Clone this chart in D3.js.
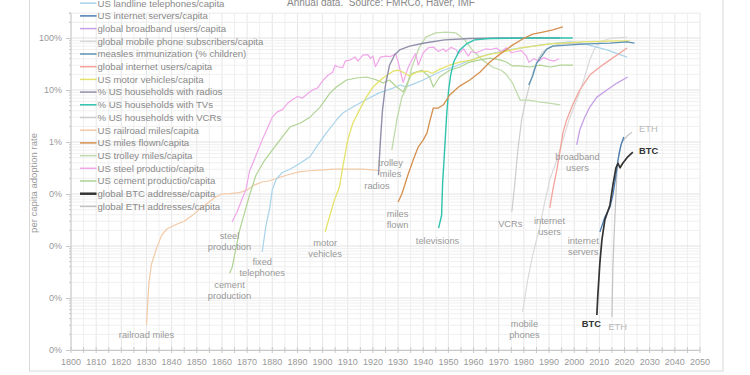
<!DOCTYPE html>
<html><head><meta charset="utf-8">
<script src="https://cdn.jsdelivr.net/npm/d3@7"></script>
<style>
html,body{margin:0;padding:0;background:#fff;}
svg{display:block;font-family:"Liberation Sans",Arial,Helvetica,sans-serif;}
</style>
</head><body>
<svg id="chart" width="750" height="375"></svg>
<script>
// ---------------- DATA (year, % per capita) ----------------
const xTickYears = d3.range(1800, 2051, 10);
const yTickValues = [0.0001, 0.001, 0.01, 0.1, 1, 10, 100];
const yTickLabels = ["0%", "0%", "0%", "0%", "1%", "10%", "100%"];

const landline = [[1876,0.0077],[1877.5,0.025],[1879,0.054],[1880,0.12],[1881.5,0.19],[1884,0.26],[1887,0.30],[1891,0.39],[1895,0.52],[1897.5,0.8],[1901.5,1.5],[1905.5,2.65],[1908,3.6],[1912,4.7],[1917,6.4],[1922.5,8.8],[1928,10.9],[1931,12.5],[1933,11.5],[1936,13],[1940,15.6],[1944,19.4],[1948,24],[1952,27.7],[1957,34.5],[1962,43],[1968,51.5],[1974,59],[1981,67],[1990,77],[1998,84],[2002,82],[2006,73],[2013,59],[2021,43]];
const internetServers = [[2010.2,0.0186],[2012.2,0.036],[2014.2,0.056],[2015.4,0.096],[2016.6,0.23],[2017.4,0.45],[2018.6,0.88],[2019.7,1.25]];
const broadband = [[2001,0.88],[2002.2,1.7],[2004.2,3.0],[2006.2,4.7],[2009,7.3],[2013,10],[2017,13.6],[2021.3,17.8]];
const mobile = [[1979.5,0.00054],[1981.5,0.0022],[1983.5,0.0067],[1986.3,0.023],[1988.3,0.07],[1990.3,0.19],[1993.1,0.45],[1995.5,1.09],[1998.2,2.9],[2001,6.4],[2003.4,13.6],[2006.2,38],[2008.2,64],[2010.2,84],[2014.2,98],[2021,104]];
const measles = [[1981.9,12.5],[1983.5,18.6],[1985.1,33],[1987.1,45],[1989.1,61],[1991.5,70],[1997,73],[2005,77],[2014.2,80],[2020.9,84],[2024,80]];
const internetUsers = [[1990.3,0.054],[1991.5,0.12],[1993.1,0.29],[1994.3,0.64],[1995.5,1.5],[1997,2.65],[1999.4,5.2],[2002.2,10],[2006.2,19.4],[2010.2,27.7],[2014.2,38],[2018.2,51.5],[2021,64]];
const motorVehicles = [[1901,0.0186],[1902.7,0.036],[1904.7,0.077],[1906.7,0.136],[1908,0.33],[1910,1.1],[1912,2.3],[1914.6,4.1],[1917.4,7.3],[1920,11.4],[1924,17],[1928,23],[1930,24],[1932,22],[1934.6,18.6],[1937.3,22],[1941.3,23],[1943.7,21],[1946.5,25],[1950.5,30],[1954.5,34.5],[1959.6,38],[1965,47],[1971.6,54],[1978.3,64],[1990.3,77],[2003.4,84],[2017,88],[2022,88]];
const radios = [[1922.2,0.23],[1923,1.1],[1923.8,4.1],[1925,12.5],[1926.6,30],[1928.6,47],[1930.6,59],[1934.6,70],[1940.5,80],[1948.5,92],[1958.4,98],[1970.4,100],[1982.3,100],[1994.3,100]];
const tvs = [[1946.1,0.022],[1947.3,0.039],[1947.7,0.16],[1948.5,0.70],[1949.3,3.3],[1950.1,10],[1950.9,19.4],[1952.1,34.5],[1954.5,59],[1957.2,77],[1960.4,92],[1966.4,98],[1982.3,100],[1999.4,100]];
const vcrs = [[1975.2,0.045],[1976.4,0.16],[1977.6,0.70],[1979.1,2.65],[1980.7,6.4],[1982.3,12.5],[1983.9,24],[1985.5,38],[1987.5,54],[1990.3,67],[1994.3,77],[2000.2,80],[2004,77]];
const railroad = [[1830,0.0003],[1830.6,0.001],[1831,0.002],[1832,0.0045],[1834,0.009],[1836,0.016],[1838,0.021],[1841,0.025],[1845,0.03],[1848,0.038],[1851,0.05],[1854,0.065],[1857,0.085],[1860,0.1],[1863,0.102],[1866,0.105],[1868,0.11],[1870,0.12],[1873,0.15],[1876,0.17],[1879,0.18],[1883,0.21],[1887,0.24],[1891,0.27],[1895,0.28],[1900,0.29],[1905,0.3],[1910,0.3],[1915,0.3],[1920,0.29],[1923,0.28]];
const milesFlown = [[1930,0.07],[1931.5,0.1],[1934,0.24],[1936,0.45],[1938,0.8],[1940,1.1],[1941.5,1.5],[1942.5,2.4],[1944,4.5],[1946,4.5],[1948,5.2],[1950.5,8],[1954.5,11.9],[1958.5,15.6],[1962.5,22],[1966.5,34.5],[1970.5,49],[1975.5,73],[1979.5,96],[1983.5,119],[1987.5,130],[1991.5,143],[1995.5,163]];
const trolley = [[1927.5,0.7],[1929.5,2.65],[1931.5,7.3],[1933.5,11.4],[1935.5,27.7],[1938.5,67],[1941,104],[1945,125],[1949,130],[1953,125],[1956.5,92],[1959.5,59],[1963.5,38],[1967.5,27.7],[1971,24],[1973,20],[1975.5,13.6],[1978.5,6.4],[1982,6.4],[1986,5.9],[1990,5.6],[1994.5,5.2]];
const steel = [[1864,0.029],[1866,0.045],[1868,0.08],[1869.5,0.12],[1871,0.28],[1873.5,0.55],[1876,1.1],[1878,1.8],[1880,3.0],[1882,3.8],[1884,4.2],[1886,5.5],[1888,6.5],[1890,7.5],[1892,7.0],[1894,8.5],[1896,10],[1898,11],[1900,15],[1902,19],[1904,22],[1905,30],[1906,28],[1908,27],[1909,36],[1911,38],[1913,43],[1914,36],[1916,47],[1918,48],[1919,40],[1920,45],[1921,28],[1923,43],[1925,45],[1927,44],[1929,50],[1930,35],[1932,14],[1934,27],[1936,42],[1937,50],[1938,30],[1940,52],[1942,65],[1944,67],[1946,55],[1948,62],[1949,55],[1951,66],[1953,60],[1954,50],[1956,62],[1958,45],[1959,55],[1961,52],[1963,57],[1965,62],[1967,60],[1969,64],[1971,55],[1973,65],[1975,52],[1977,55],[1979,57],[1981,45],[1982,34],[1984,40],[1986,36],[1988,42],[1990,38],[1992,36],[1994,40]];
const cement = [[1863,0.003],[1864,0.0038],[1867,0.02],[1871,0.096],[1873.5,0.23],[1877,0.45],[1880,0.7],[1884,1.25],[1887,1.94],[1891,2.3],[1895,3.0],[1899,4.7],[1903,8.8],[1905.5,11.4],[1909.5,15.6],[1913.5,17],[1917.5,17.8],[1921.5,15.6],[1924,13.6],[1926.5,15.6],[1929.5,11.4],[1932,9.2],[1935.5,21],[1939.5,24],[1942.5,17.8],[1944,11.4],[1946.5,17.8],[1950.5,24],[1954.5,27.7],[1958.5,34.5],[1962.5,38],[1966.5,41],[1970.5,38],[1973,34.5],[1975.5,29],[1978.5,29],[1982.5,27.7],[1986.5,30],[1990.5,27.7],[1994.5,30],[1999.5,30]];
const btc = [[2009,0.00047],[2009.4,0.00114],[2010.2,0.0047],[2011,0.013],[2012.2,0.032],[2014.2,0.061],[2015.4,0.15],[2016.6,0.32],[2017.4,0.39],[2018.2,0.32],[2019.3,0.39],[2021.3,0.52],[2023.3,0.64]];
const eth = [[2015,0.00043],[2015.4,0.0043],[2016.2,0.039],[2017,0.26],[2017.8,0.64],[2019,1.0],[2021,1.3],[2023,1.55]];

const seriesNames = ["US landline telephones/capita","US internet servers/capita","global broadband users/capita","global mobile phone subscribers/capita","measles immunization (% children)","global internet users/capita","US motor vehicles/capita","% US households with radios","% US households with TVs","% US households with VCRs","US railroad miles/capita","US miles flown/capita","US trolley miles/capita","US steel productio/capita","US cement productio/capita","global BTC addresse/capita","global ETH addresses/capita"];
const seriesData = [landline, internetServers, broadband, mobile, measles, internetUsers, motorVehicles, radios, tvs, vcrs, railroad, milesFlown, trolley, steel, cement, btc, eth];

// annotation labels: text lines and data anchor [year, %]
const annotations = [
  {lines:["railroad miles"], at:[1830,0.000194]},
  {lines:["steel","production"], at:[1863,0.0156]},
  {lines:["cement","production"], at:[1863,0.00178]},
  {lines:["fixed","telephones"], at:[1876,0.00492]},
  {lines:["motor","vehicles"], at:[1901,0.0114]},
  {lines:["trolley","miles"], at:[1927,0.394]},
  {lines:["radios"], at:[1921.6,0.1426]},
  {lines:["miles","flown"], at:[1929.8,0.0412]},
  {lines:["televisions"], at:[1945.7,0.01248]},
  {lines:["VCRs"], at:[1974.6,0.0265]},
  {lines:["internet","users"], at:[1990.2,0.0303]},
  {lines:["internet","servers"], at:[2003.6,0.01248]},
  {lines:["mobile","phones"], at:[1980.2,0.000316]},
  {lines:["BTC"], at:[2006.8,0.000316], kind:"btc", anchor:"middle"},
  {lines:["ETH"], at:[2017.3,0.000277], kind:"eth", anchor:"middle"},
  {lines:["broadband","users"], at:[2001.3,0.515]},
  {lines:["ETH"], at:[2025.8,1.78], kind:"eth", anchor:"start"},
  {lines:["BTC"], at:[2025.8,0.67], kind:"btc", anchor:"start"}
];

// ---------------- STYLE ----------------
const colors = ["#a9d3ea","#4b7db3","#c6a0e6","#dadada","#5f93b5","#f3a49c","#e4e26a","#8f8fa9","#2fc2ad","#cdcdcd","#f2caa6","#d4904f","#c0dbab","#f0a6e8","#afd393","#333333","#c2c2c2"];
const widths = [1.2,1.3,1.3,1.2,1.3,1.3,1.3,1.4,1.4,1.2,1.2,1.3,1.3,1.2,1.2,1.7,1.2];

const svg = d3.select("#chart");

// frame
svg.append("rect").attr("x",29.5).attr("y",-5).attr("width",693.5).attr("height",376)
  .attr("fill","#fff").attr("stroke","#d9d9d9").attr("stroke-width",1);

const x = d3.scaleLinear().domain([1800,2050]).range([71,700]);
const y = d3.scaleLog().domain([0.0001,300]).range([350,13.2]);

// grid
const grid = svg.append("g");
d3.range(1800,2051,5).forEach(yr => {
  grid.append("line").attr("x1",x(yr)).attr("x2",x(yr)).attr("y1",y(300)).attr("y2",y(0.0001))
    .attr("stroke", yr%10===0 ? "#e6e6e6" : "#efefef").attr("stroke-width",1);
});
const hVals = [];
yTickValues.forEach(d => { for (let k=1;k<=9;k++){ const v=d*k; if (v<=300.0001) hVals.push([v,k===1]); } });
hVals.push([200,false],[300,false]);
hVals.forEach(([v,major]) => {
  grid.append("line").attr("x1",x(1800)).attr("x2",x(2050)).attr("y1",y(v)).attr("y2",y(v))
    .attr("stroke", major ? "#e2e2e2" : "#f0f0f0").attr("stroke-width",1);
});

// axes
const axisColor = "#c8c8c8";
const xAxis = d3.axisBottom(x).tickValues(d3.range(1800,2051,5)).tickSize(0).tickFormat("");
const gx = svg.append("g").attr("transform",`translate(0,${y(0.0001)})`).call(xAxis);
gx.select(".domain").attr("stroke",axisColor);
d3.range(1800,2051,5).forEach(yr => {
  gx.append("line").attr("x1",x(yr)).attr("x2",x(yr)).attr("y1",-3).attr("y2",3).attr("stroke",axisColor);
});
gx.selectAll(".lbl").data(xTickYears).enter().append("text")
  .attr("x",d=>x(d)).attr("y",15).attr("text-anchor","middle")
  .attr("font-size","9px").attr("fill","#999").text(d=>d);

const yAxis = d3.axisLeft(y).tickValues(yTickValues).tickSize(5).tickFormat((d,i)=>yTickLabels[i]);
const gy = svg.append("g").attr("transform",`translate(${x(1800)},0)`).call(yAxis);
gy.select(".domain").attr("stroke",axisColor).attr("d",`M0,${y(300)}V${y(0.0001)}`);
gy.selectAll(".tick line").attr("stroke",axisColor);
gy.selectAll(".tick text").attr("font-size","9px").attr("fill","#999").attr("x",-9)
  .attr("font-family","Liberation Sans, Arial, sans-serif");
hVals.filter(d=>!d[1]).forEach(([v]) => {
  gy.append("line").attr("x1",-2).attr("x2",0).attr("y1",y(v)).attr("y2",y(v)).attr("stroke",axisColor);
});

// y title
svg.append("text").attr("transform","translate(37,183) rotate(-90)").attr("text-anchor","middle")
  .attr("font-size","9.5px").attr("fill","#999").text("per capita adoption rate");

// header
svg.append("text").attr("x",287).attr("y",5.5).attr("font-size","10px").attr("fill","#888")
  .attr("xml:space","preserve").text("Annual data.  Source: FMRCo, Haver, IMF");

// lines
const line = d3.line().x(d=>x(d[0])).y(d=>y(d[1]));
const drawOrder = [3,9,16,10,0,12,14,13,6,5,2,4,7,8,11,1,15];
drawOrder.forEach(i => {
  svg.append("path").datum(seriesData[i]).attr("d",line).attr("fill","none")
    .attr("stroke",colors[i]).attr("stroke-width",widths[i]).attr("stroke-linejoin","round");
});

// legend
const lg = svg.append("g");
seriesNames.forEach((name,i) => {
  const by = 6.5 + 12.7*i;
  lg.append("line").attr("x1",80).attr("x2",96.5).attr("y1",by-3.3).attr("y2",by-3.3)
    .attr("stroke",colors[i]).attr("stroke-width", i===15 ? 2.5 : 1.5);
  lg.append("text").attr("x",97.5).attr("y",by).attr("font-size","9.6px").attr("fill","#8a8a8a").text(name);
});

// annotations
const ag = svg.append("g");
annotations.forEach(a => {
  const t = ag.append("text").attr("x",x(a.at[0])).attr("y",y(a.at[1])+3.2)
    .attr("text-anchor",a.anchor||"middle").attr("font-size","9.3px")
    .attr("fill", a.kind==="btc" ? "#333" : a.kind==="eth" ? "#b8b8b8" : "#999")
    .attr("font-weight", a.kind==="btc" ? "bold" : "normal");
  a.lines.forEach((ln,k) => {
    t.append("tspan").attr("x",x(a.at[0])).attr("dy", k===0 ? 0 : 11).text(ln);
  });
});
</script>
</body></html>
